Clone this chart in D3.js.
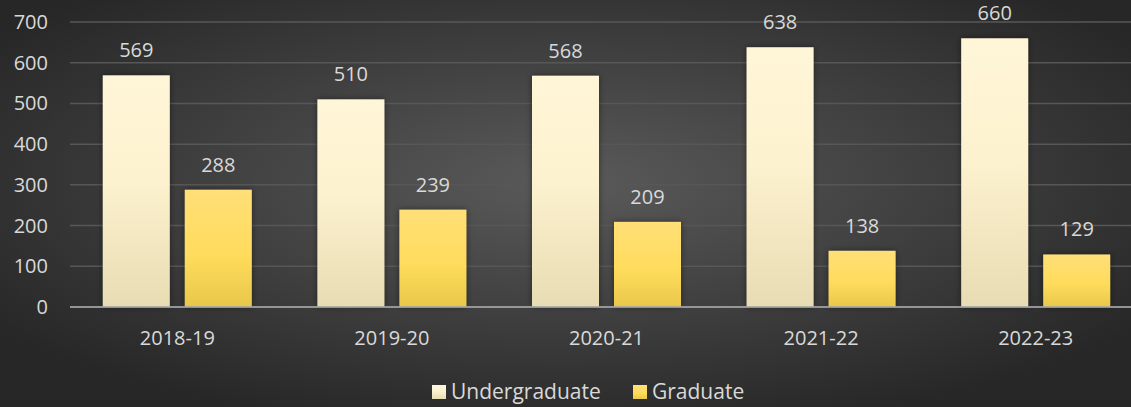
<!DOCTYPE html>
<html lang="en">
<head>
<meta charset="UTF-8">
<title>Enrollment</title>
<script src="https://d3js.org/d3.v7.min.js"></script>
<style>
    html, body { margin: 0; padding: 0; background: #2a2a2a; overflow: hidden; }
    svg { display: block; font-family: "Open Sans", sans-serif; }
</style>
</head>
<body>
<svg id="chart" width="1131" height="407"></svg>
<script>
const years = ["2018-19", "2019-20", "2020-21", "2021-22", "2022-23"];
const undergraduate = [569, 510, 568, 638, 660];
const graduate = [288, 239, 209, 138, 129];
const seriesNames = ["Undergraduate", "Graduate"];
const yTicks = [0, 100, 200, 300, 400, 500, 600, 700];

const svg = d3.select("#chart");
const width = 1131, height = 407;

const defs = svg.append("defs");
const bg = defs.append("radialGradient").attr("id", "bg")
    .attr("cx", "50%").attr("cy", "45%").attr("r", "62%");
bg.append("stop").attr("offset", "0%").attr("stop-color", "#5a5a5a");
bg.append("stop").attr("offset", "100%").attr("stop-color", "#272727");

const gUG = defs.append("linearGradient").attr("id", "gUG")
    .attr("x1", 0).attr("y1", 0).attr("x2", 0).attr("y2", 1);
gUG.append("stop").attr("offset", "0%").attr("stop-color", "#fff6d8");
gUG.append("stop").attr("offset", "45%").attr("stop-color", "#fdf2cf");
gUG.append("stop").attr("offset", "100%").attr("stop-color", "#e7dcb2");

const gGR = defs.append("linearGradient").attr("id", "gGR")
    .attr("x1", 0).attr("y1", 0).attr("x2", 0).attr("y2", 1);
gGR.append("stop").attr("offset", "0%").attr("stop-color", "#ffdf78");
gGR.append("stop").attr("offset", "55%").attr("stop-color", "#ffdc5c");
gGR.append("stop").attr("offset", "100%").attr("stop-color", "#e8c84a");

const shadow = defs.append("filter").attr("id", "shadow")
    .attr("x", "-20%").attr("y", "-20%").attr("width", "140%").attr("height", "140%");
shadow.append("feDropShadow").attr("dx", 0).attr("dy", 0)
    .attr("stdDeviation", 3).attr("flood-color", "#000").attr("flood-opacity", 0.45);

svg.append("rect").attr("width", width).attr("height", height).attr("fill", "url(#bg)");

const x0 = d3.scaleBand().domain(years).range([70, 1143]).paddingInner(0).paddingOuter(0);
const x1 = d3.scaleBand().domain(seriesNames).range([0, x0.bandwidth()])
    .paddingInner(0.183).paddingOuter(0.4);
const y = d3.scaleLinear().domain([0, 700]).range([307, 22]);

// gridlines
svg.append("g").selectAll("line")
    .data(yTicks.filter(d => d > 0))
    .join("line")
    .attr("x1", 70).attr("x2", width)
    .attr("y1", d => y(d)).attr("y2", d => y(d))
    .attr("stroke", "#575757").attr("stroke-width", 1.5);

// y axis labels
svg.append("g").selectAll("text")
    .data(yTicks)
    .join("text")
    .attr("x", 48).attr("y", d => y(d) + 7)
    .attr("text-anchor", "end")
    .attr("fill", "#d9d9d9")
    .attr("font-size", 20)
    .text(d => d);

const series = [
    {name: "Undergraduate", values: undergraduate, fill: "url(#gUG)"},
    {name: "Graduate", values: graduate, fill: "url(#gGR)"}
];

const groups = svg.append("g").selectAll("g")
    .data(years)
    .join("g")
    .attr("transform", d => `translate(${x0(d)},0)`);

groups.selectAll("rect")
    .data((d, i) => series.map(s => ({s, v: s.values[i]})))
    .join("rect")
    .attr("x", d => x1(d.s.name))
    .attr("width", x1.bandwidth())
    .attr("y", d => y(d.v))
    .attr("height", d => y(0) - y(d.v))
    .attr("fill", d => d.s.fill)
    .attr("filter", "url(#shadow)");

groups.selectAll("text")
    .data((d, i) => series.map(s => ({s, v: s.values[i]})))
    .join("text")
    .attr("x", d => x1(d.s.name) + x1.bandwidth() / 2)
    .attr("y", d => y(d.v) - 18)
    .attr("text-anchor", "middle")
    .attr("fill", "#d9d9d9")
    .attr("font-size", 20)
    .text(d => d.v);

// baseline
svg.append("line")
    .attr("x1", 70).attr("x2", width)
    .attr("y1", y(0)).attr("y2", y(0))
    .attr("stroke", "#a6a6a6").attr("stroke-width", 2)
    .style("opacity", 0.85);

// x labels
svg.append("g").selectAll("text")
    .data(years)
    .join("text")
    .attr("x", d => x0(d) + x0.bandwidth() / 2)
    .attr("y", 345)
    .attr("text-anchor", "middle")
    .attr("fill", "#d9d9d9")
    .attr("font-size", 20)
    .text(d => d);

// legend
const legendX = [432, 633];
const legend = svg.append("g").selectAll("g")
    .data(series)
    .join("g")
    .attr("transform", (d, i) => `translate(${legendX[i]},385)`);
legend.append("rect")
    .attr("width", 14).attr("height", 14)
    .attr("fill", d => d.fill);
legend.append("text")
    .attr("x", 19).attr("y", 14)
    .attr("fill", "#d9d9d9")
    .attr("font-size", 21)
    .text(d => d.name);
</script>
</body>
</html>
